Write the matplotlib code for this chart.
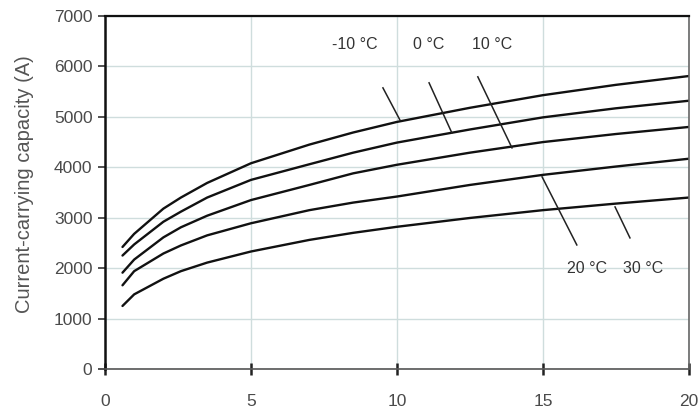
import matplotlib
matplotlib.use("Agg")
import matplotlib.pyplot as plt

plt.rcParams['font.family'] = ['Liberation Sans', 'DejaVu Sans']

x_vals = [0.6, 1, 2, 2.6, 3.5, 5, 7, 8.5, 10, 12.5, 15, 17.5, 20]
curve_m10 = [2420, 2680, 3180, 3400, 3690, 4080, 4450, 4690, 4900, 5180, 5430, 5635, 5810]
curve_0 = [2250, 2470, 2920, 3120, 3400, 3750, 4060, 4290, 4490, 4750, 4990, 5170, 5320]
curve_10 = [1910, 2170, 2610, 2810, 3040, 3350, 3650, 3880, 4050, 4290, 4500, 4660, 4800]
curve_20 = [1660, 1940, 2290, 2450, 2650, 2890, 3150, 3300, 3420, 3650, 3850, 4015, 4170]
curve_30 = [1250, 1480, 1790, 1940, 2110, 2330, 2560, 2700, 2820, 2995, 3150, 3280, 3400]

labels = ["-10 °C", "0 °C", "10 °C", "20 °C", "30 °C"]
label_pos = [(8.56, 6430), (11.1, 6430), (13.25, 6430), (16.5, 2000), (18.42, 2000)]
leader_lines = [((9.52, 5575), (10.10, 4940)),
                ((11.10, 5675), (11.88, 4683)),
                ((12.77, 5794), (13.94, 4385)),
                ((14.97, 3810), (16.16, 2460)),
                ((17.47, 3214), (17.98, 2600))]

y_ticks = [0, 1000, 2000, 3000, 4000, 5000, 6000, 7000]
x_ticks = [0, 5, 10, 15, 20]

fig = plt.figure(figsize=(6.98, 4.16), dpi=100)
ax = fig.add_axes([0.1504, 0.113, 0.8366, 0.8485])

for c in [curve_m10, curve_0, curve_10, curve_20, curve_30]:
    ax.plot(x_vals, c, color='#111111', lw=1.7, solid_capstyle='round')

for (p0, p1) in leader_lines:
    ax.plot([p0[0], p1[0]], [p0[1], p1[1]], color='#222222', lw=1.1)

for lab, (lx, ly) in zip(labels, label_pos):
    ax.text(lx, ly, lab, ha='center', va='center', fontsize=11.5, color='#333333')

ax.set_xlim(0, 20)
ax.set_ylim(0, 7000)
ax.set_xticks(x_ticks)
ax.set_yticks(y_ticks)
ax.set_yticklabels([str(v) for v in y_ticks])
ax.grid(True, color='#cfdddd', lw=1.0)
ax.set_axisbelow(True)

ax.tick_params(axis='y', direction='out', length=5, width=1.2, pad=4,
               labelsize=12.5, labelcolor='#4a4a4a', color='#333333')
ax.tick_params(axis='x', direction='inout', length=8, width=1.8, pad=14,
               labelsize=12.5, labelcolor='#4a4a4a', color='#222222')

ax.spines['left'].set_linewidth(1.8)
ax.spines['left'].set_color('#111111')
ax.spines['bottom'].set_linewidth(1.2)
ax.spines['bottom'].set_color('#555555')
ax.spines['top'].set_linewidth(1.6)
ax.spines['top'].set_color('#111111')
ax.spines['right'].set_linewidth(1.2)
ax.spines['right'].set_color('#666666')

ax.set_ylabel('Current-carrying capacity (A)', fontsize=14.5, color='#555555')
ax.yaxis.label.set_va('center')
ax.yaxis.set_label_coords(-0.137, 0.524)

fig.savefig('out.png', dpi=100)
